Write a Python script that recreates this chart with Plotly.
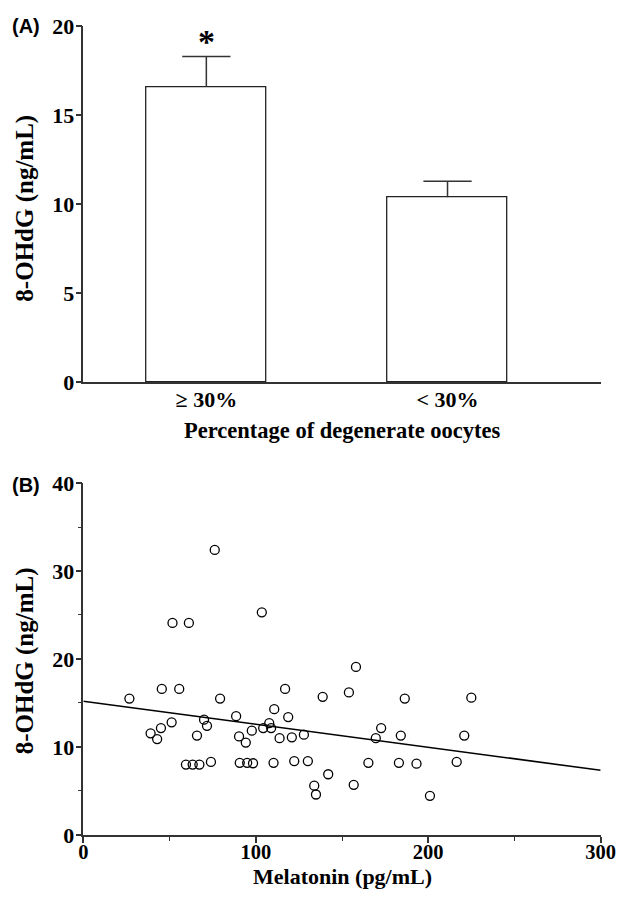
import plotly.graph_objects as go

# ---------------- Panel A data ----------------
groups = ["≥ 30%", "< 30%"]
group_pos = [0, 1]
ohdg_means = [16.6, 10.4]
ohdg_sem = [1.7, 0.9]

# ---------------- Panel B data ----------------
melatonin = [26.7, 51.7, 61.2, 103.5, 45.5, 55.6, 79.3, 117.0, 138.8, 39.0,
             42.8, 45.0, 51.2, 70.0, 71.7, 65.9, 88.6, 90.3, 94.2, 97.7,
             104.3, 107.8, 108.9, 110.7, 118.8, 113.8, 120.9, 127.9, 59.5, 63.4,
             67.3, 74.0, 90.7, 95.0, 98.4, 110.3, 122.3, 130.2, 142.0, 133.9,
             134.9, 76.2, 158.1, 154.0, 186.4, 225.0, 172.7, 169.6, 184.1, 220.9,
             156.8, 165.3, 183.0, 193.2, 201.0, 216.5]
ohdg_values = [15.5, 24.1, 24.1, 25.3, 16.6, 16.6, 15.5, 16.6, 15.7, 11.55,
               10.9, 12.15, 12.8, 13.1, 12.4, 11.3, 13.5, 11.2, 10.5, 11.85,
               12.15, 12.7, 12.15, 14.3, 13.4, 11.0, 11.1, 11.4, 8.0, 8.0,
               8.0, 8.3, 8.2, 8.2, 8.15, 8.2, 8.4, 8.4, 6.9, 5.6,
               4.6, 32.4, 19.1, 16.2, 15.5, 15.6, 12.15, 11.0, 11.3, 11.3,
               5.7, 8.2, 8.2, 8.1, 4.45, 8.3]
fit_x = [0, 300]
fit_y = [15.2, 7.35]

W, H = 617, 897
SERIF = "Liberation Serif"
SANS = "Liberation Sans"
AX = "#333333"
CAP_HALF = 0.1

# target screen pixel -> figure pixel (compensates the capture scaling observed)
SX, OX = 0.967, 4.7
SY, OY = 0.975, 10.6

def px_x(p):
    return ((p - OX) / SX) / W

def px_y(p):
    return 1 - ((p - OY) / SY) / H

fig = go.Figure()

fig.add_trace(go.Bar(
    x=group_pos, y=ohdg_means, width=0.5,
    marker=dict(color="white", line=dict(color="#222222", width=1.3)),
    xaxis="x", yaxis="y", showlegend=False, hoverinfo="skip"))

wx, wy = [], []
for xp, m, s in zip(group_pos, ohdg_means, ohdg_sem):
    wx += [xp, xp, None, xp - CAP_HALF, xp + CAP_HALF, None]
    wy += [m, m + s, None, m + s, m + s, None]
fig.add_trace(go.Scatter(
    x=wx, y=wy, mode="lines", line=dict(color=AX, width=1.5),
    xaxis="x", yaxis="y", showlegend=False, hoverinfo="skip"))

fig.add_trace(go.Scatter(
    x=melatonin, y=ohdg_values, mode="markers",
    marker=dict(symbol="circle-open", size=9, color="black", line=dict(width=1.3)),
    xaxis="x2", yaxis="y2", showlegend=False, cliponaxis=False))

fig.add_trace(go.Scatter(
    x=fit_x, y=fit_y, mode="lines", line=dict(color="black", width=1.6),
    xaxis="x2", yaxis="y2", showlegend=False))

tickfont = dict(family=SERIF, size=22, color="black", weight="bold")
axis_common = dict(showline=True, linecolor=AX, linewidth=1.5, showgrid=False,
                   zeroline=False, tickcolor=AX, tickwidth=1.5)

fig.update_layout(
    width=W, height=H, margin=dict(l=0, r=0, t=0, b=0),
    paper_bgcolor="white", plot_bgcolor="white", bargap=0,
    xaxis=dict(domain=[px_x(83), px_x(600)], range=[-0.51, 1.635], anchor="y",
               tickvals=group_pos, ticktext=groups, ticks="", ticklabelstandoff=-3,
               tickfont=tickfont, **axis_common),
    yaxis=dict(domain=[px_y(382), px_y(25)], range=[0, 20], anchor="x",
               tickvals=[0, 5, 10, 15, 20], ticks="outside", ticklen=6,
               ticklabelstandoff=-3, tickfont=tickfont, **axis_common),
    xaxis2=dict(domain=[px_x(83), px_x(600)], range=[0, 300], anchor="y2",
                tickvals=[0, 100, 200, 300], ticks="outside", ticklen=6,
                ticklabelstandoff=-8, ticklabeloverflow="allow",
                tickfont=dict(family=SERIF, size=20.5, color="black", weight="bold"),
                minor=dict(tickvals=[50, 150, 250], ticks="outside", ticklen=4,
                           tickcolor=AX, tickwidth=1.2),
                **axis_common),
    yaxis2=dict(domain=[px_y(836), px_y(483)], range=[0, 40], anchor="x2",
                tickvals=[0, 10, 20, 30, 40], ticks="outside", ticklen=6,
                ticklabelstandoff=-3, tickfont=tickfont,
                minor=dict(tickvals=[5, 15, 25, 35], ticks="outside", ticklen=4,
                           tickcolor=AX, tickwidth=1.2),
                **axis_common),
)

title_font = dict(family=SERIF, size=22.5, color="black", weight="bold")
ytitle_font = dict(family=SERIF, size=25, color="black", weight="bold")
label_font = dict(family=SANS, size=20, color="black", weight="bold")

annotations = [
    dict(text="(A)", x=px_x(10), y=px_y(25), xref="paper", yref="paper",
         xanchor="left", yanchor="middle", showarrow=False, font=label_font),
    dict(text="(B)", x=px_x(10), y=px_y(485), xref="paper", yref="paper",
         xanchor="left", yanchor="middle", showarrow=False, font=label_font),
    dict(text="8-OHdG (ng/mL)", x=px_x(25), y=px_y(207.5), xref="paper", yref="paper",
         xanchor="center", yanchor="middle", textangle=-90, showarrow=False, font=ytitle_font),
    dict(text="8-OHdG (ng/mL)", x=px_x(25), y=px_y(661.5), xref="paper", yref="paper",
         xanchor="center", yanchor="middle", textangle=-90, showarrow=False, font=ytitle_font),
    dict(text="Percentage of degenerate oocytes", x=px_x(342), y=px_y(430),
         xref="paper", yref="paper", xanchor="center", yanchor="middle",
         showarrow=False, font=title_font),
    dict(text="Melatonin (pg/mL)", x=px_x(342), y=px_y(878),
         xref="paper", yref="paper", xanchor="center", yanchor="middle",
         showarrow=False, font=dict(family=SERIF, size=22, color="black", weight="bold")),
    dict(text="*", x=group_pos[0], y=ohdg_means[0] + ohdg_sem[0] + 0.85, xref="x", yref="y",
         xanchor="center", yanchor="middle", showarrow=False,
         font=dict(family=SERIF, size=34, color="black", weight="bold")),
]
fig.update_layout(annotations=annotations)

fig.write_html("out.html")
